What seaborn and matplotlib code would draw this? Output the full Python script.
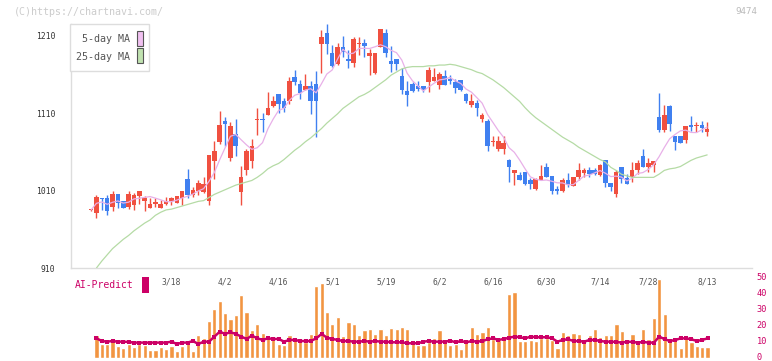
import numpy as np
import pandas as pd
import matplotlib
matplotlib.use("Agg")
import matplotlib.pyplot as plt
import seaborn as sns
from matplotlib.patches import Rectangle
from matplotlib.transforms import blended_transform_factory, ScaledTranslation

# ---------------- data ----------------
opens = [985, 981, 1001, 1000, 989, 1006, 996, 989, 991, 1003, 996, 988, 993, 987, 993, 996, 994, 1000, 1025, 1004,
         1009, 1008, 997, 1048, 1073, 1100, 1052, 1083, 1008, 1036, 1048, 1101, 1103, 1107, 1119, 1134, 1126, 1125, 1156, 1148,
         1140, 1145, 1147, 1199, 1214, 1188, 1173, 1195, 1180, 1175, 1199, 1200, 1184, 1162, 1195, 1213, 1177, 1180, 1158, 1139,
         1147, 1145, 1145, 1150, 1152, 1146, 1158, 1154, 1150, 1153, 1134, 1120, 1123, 1102, 1100, 1073, 1064, 1063, 1049, 1032,
         1030, 1034, 1024, 1012, 1024, 1041, 1029, 1012, 1009, 1024, 1016, 1027, 1033, 1037, 1037, 1030, 1049, 1020, 1006, 1040,
         1026, 1027, 1037, 1055, 1040, 1043, 1105, 1088, 1119, 1080, 1080, 1075, 1095, 1093, 1095, 1085]
highs = [986, 1004, 1001, 1004, 1009, 1006, 997, 1009, 1007, 1009, 1003, 1000, 1000, 998, 1002, 1002, 1003, 1009, 1038, 1015,
         1024, 1027, 1056, 1074, 1113, 1105, 1098, 1102, 1042, 1064, 1076, 1116, 1110, 1137, 1132, 1135, 1130, 1157, 1165, 1153,
         1160, 1151, 1164, 1217, 1225, 1198, 1200, 1209, 1191, 1208, 1208, 1205, 1193, 1188, 1218, 1219, 1196, 1180, 1168, 1151,
         1150, 1151, 1145, 1170, 1168, 1163, 1165, 1159, 1154, 1153, 1136, 1135, 1127, 1110, 1103, 1080, 1080, 1080, 1051, 1037,
         1034, 1034, 1026, 1026, 1043, 1046, 1029, 1016, 1026, 1033, 1028, 1045, 1039, 1040, 1039, 1044, 1049, 1020, 1037, 1040,
         1031, 1047, 1049, 1064, 1052, 1048, 1136, 1120, 1120, 1080, 1080, 1093, 1106, 1099, 1100, 1098]
lows = [984, 974, 985, 979, 984, 987, 988, 986, 985, 993, 983, 988, 989, 987, 991, 991, 994, 991, 1000, 1002,
        1004, 1007, 991, 1025, 1070, 1068, 1048, 1054, 991, 1030, 1039, 1082, 1085, 1107, 1118, 1110, 1112, 1122, 1146, 1128,
        1140, 1109, 1079, 1162, 1186, 1169, 1172, 1182, 1168, 1169, 1185, 1183, 1159, 1160, 1195, 1182, 1163, 1166, 1134, 1119,
        1137, 1139, 1137, 1137, 1152, 1141, 1146, 1147, 1136, 1138, 1123, 1118, 1106, 1098, 1061, 1067, 1061, 1057, 1021, 1017,
        1023, 1017, 1012, 1011, 1024, 1027, 1006, 1006, 1008, 1015, 1016, 1023, 1027, 1028, 1030, 1029, 1015, 1010, 1002, 1020,
        1018, 1021, 1031, 1040, 1034, 1034, 1086, 1085, 1087, 1062, 1071, 1072, 1087, 1085, 1086, 1080]
closes = [985, 1002, 999, 983, 1005, 994, 988, 1005, 1004, 1009, 1000, 993, 995, 993, 997, 1000, 1003, 1009, 1004, 1011,
          1020, 1018, 1056, 1061, 1094, 1096, 1093, 1068, 1027, 1061, 1067, 1103, 1101, 1116, 1125, 1122, 1117, 1151, 1150, 1136,
          1145, 1125, 1125, 1208, 1199, 1171, 1195, 1189, 1177, 1205, 1201, 1196, 1188, 1188, 1218, 1188, 1173, 1173, 1140, 1133,
          1139, 1141, 1140, 1165, 1157, 1161, 1146, 1151, 1143, 1140, 1125, 1126, 1116, 1107, 1067, 1074, 1074, 1072, 1040, 1037,
          1024, 1018, 1019, 1025, 1029, 1027, 1010, 1009, 1024, 1017, 1028, 1037, 1037, 1031, 1031, 1043, 1020, 1015, 1034, 1025,
          1018, 1037, 1046, 1040, 1045, 1048, 1088, 1107, 1096, 1073, 1071, 1093, 1092, 1095, 1091, 1089]
ma25 = [np.nan, 910, 919, 927, 935, 941, 947, 952, 958, 963, 968, 972, 978, 982, 985, 986, 988, 990, 992, 994,
        996, 997, 1001, 1005, 1008, 1011, 1014, 1017, 1019, 1021, 1023, 1027, 1032, 1038, 1042, 1045, 1050, 1056, 1062, 1067,
        1073, 1078, 1084, 1090, 1097, 1103, 1109, 1116, 1121, 1126, 1131, 1134, 1138, 1143, 1148, 1153, 1159, 1163, 1167, 1169,
        1170, 1170, 1170, 1171, 1171, 1172, 1172, 1173, 1172, 1170, 1168, 1166, 1163, 1161, 1157, 1153, 1148, 1143, 1137, 1131,
        1125, 1117, 1110, 1104, 1099, 1094, 1089, 1084, 1079, 1075, 1071, 1066, 1062, 1058, 1054, 1050, 1047, 1040, 1036, 1031,
        1029, 1027, 1027, 1027, 1027, 1027, 1031, 1036, 1038, 1039, 1041, 1045, 1049, 1052, 1054, 1056]
volume = [0, 14.2, 8.5, 8.5, 11.5, 7.3, 6.0, 8.5, 6.6, 8.5, 8.1, 4.7, 4.7, 6.6, 5.4, 7.3, 4.1, 7.3, 9.2, 4.1,
          14.2, 12.3, 23.1, 30.7, 35.8, 28.2, 24.4, 26.9, 39.6, 28.8, 17.4, 21.4, 15.7, 13.6, 12.3, 8.5, 7.9, 14.2, 12.3, 11.1,
          9.6, 14.9, 45.2, 46.9, 28.8, 21.2, 25.6, 13.6, 22.5, 21.2, 14.2, 17.4, 18.0, 14.9, 18.0, 14.2, 18.7, 18.0, 19.3, 18.0,
          9.2, 7.9, 7.9, 9.8, 12.3, 17.4, 9.8, 7.9, 8.5, 5.4, 11.1, 19.3, 14.9, 16.1, 19.3, 11.7, 11.1, 11.7, 40.2, 41.5,
          10.5, 10.5, 11.1, 10.5, 12.2, 12.2, 11.1, 6.1, 16.1, 14.2, 15.5, 14.9, 11.1, 14.2, 18.0, 13.0, 14.2, 14.2, 21.2, 16.8,
          11.1, 14.9, 10.4, 18.0, 11.7, 25.0, 49.7, 27.7, 12.3, 11.1, 6.0, 13.0, 9.8, 7.3, 6.6, 6.6]
ai_predict = [np.nan, 12.1, 10.4, 10.0, 10.4, 10.0, 10.0, 9.8, 9.4, 9.4, 9.4, 9.4, 9.4, 9.4, 9.4, 10.0, 8.5, 9.4, 9.4, 10.4,
              8.5, 10.0, 10.0, 13.2, 16.3, 14.9, 15.9, 14.9, 13.2, 11.7, 13.8, 12.1, 11.1, 12.1, 11.7, 11.7, 10.0, 11.1, 11.1, 10.4,
              10.4, 10.4, 12.1, 14.9, 12.5, 11.7, 11.1, 10.4, 10.4, 10.0, 10.0, 10.4, 10.0, 10.4, 10.0, 10.0, 9.6, 9.6, 9.6, 9.0,
              9.0, 9.0, 10.0, 10.4, 10.0, 10.0, 10.0, 10.6, 9.6, 10.4, 9.6, 10.4, 10.0, 10.4, 11.5, 12.1, 11.1, 11.7, 12.5, 13.2,
              12.8, 12.1, 13.2, 12.8, 12.8, 12.8, 12.1, 10.0, 11.1, 11.5, 10.4, 10.4, 10.0, 11.1, 11.1, 10.4, 10.0, 10.0, 9.8, 9.4,
              10.0, 9.8, 9.4, 9.8, 9.4, 9.4, 13.2, 11.5, 10.4, 11.1, 12.1, 12.1, 11.5, 10.4, 11.1, 12.1]
date_labels = ["3/18", "4/2", "4/16", "5/1", "5/19", "6/2", "6/16", "6/30", "7/14", "7/28", "8/13"]
date_index = [15, 25, 35, 45, 55, 65, 75, 85, 95, 104, 115]
price_ticks = [910, 1010, 1110, 1210]
vol_ticks = [0, 10, 20, 30, 40, 50]

# ---------------- style ----------------
sns.set_style("white")
plt.rcParams["font.family"] = ["DejaVu Sans Mono", "DejaVu Sans"]

RED = "#F05040"
BLUE = "#4080F0"
ORANGE = "#F29541"
MAGENTA = "#CC0066"
PINK = "#E8B0E8"
GREEN = "#B5DBA5"
W, H = 772, 361

fig = plt.figure(figsize=(W / 100, H / 100), dpi=100)

def fx(px):
    return px / W

def fy(py):
    return 1 - py / H

n = len(closes)
idx = np.arange(n)
df = pd.DataFrame({"i": idx, "open": opens, "high": highs, "low": lows, "close": closes,
                   "ma25": ma25, "vol": volume, "ai": ai_predict})
df["ma5"] = df["close"].rolling(5, min_periods=1).mean()

x_left, x_right = -3.81, 123.35

# ---------------- main price panel ----------------
ax = fig.add_axes([fx(70.7), fy(268), fx(752.3) - fx(70.7), fy(24) - fy(268)])
ax.set_xlim(x_left, x_right)
ax.set_ylim(910, 1225)

up = df["close"] >= df["open"]
cols = np.where(up, RED, BLUE)
ax.vlines(df["i"], df["low"], df["high"], colors=cols, lw=1.0, zorder=2)
body_bottom = np.minimum(df["open"], df["close"])
body_h = np.maximum(np.abs(df["close"] - df["open"]), 1.0)
ax.bar(df["i"], body_h, bottom=body_bottom, width=0.85, color=cols, linewidth=0, zorder=3)

sns.lineplot(data=df, x="i", y="ma5", ax=ax, color=PINK, lw=0.9, zorder=4)
sns.lineplot(data=df, x="i", y="ma25", ax=ax, color=GREEN, lw=0.9, zorder=4)

for s in ["top", "right"]:
    ax.spines[s].set_visible(False)
for s in ["left", "bottom"]:
    ax.spines[s].set_color("#dddddd")
    ax.spines[s].set_linewidth(1.0)
ax.set_yticks(price_ticks)
ax.set_yticklabels([str(v) for v in price_ticks])
ax.tick_params(axis="y", direction="out", length=5, width=1, color="#dddddd",
               labelsize=5.8, labelcolor="#333333", pad=6)
ax.set_xticks([x_left + 11.567 * k for k in range(12)])
ax.set_xticklabels([])
ax.tick_params(axis="x", direction="inout", length=6, width=1, color="#dddddd")
ax.set_xlabel("")
ax.set_ylabel("")

# ---------------- volume / AI panel ----------------
axv = fig.add_axes([fx(70.7), fy(357.5), fx(752.3) - fx(70.7), fy(271) - fy(357.5)])
sns.barplot(data=df, x="i", y="vol", native_scale=True, width=0.78, color=ORANGE,
            saturation=1, errorbar=None, ax=axv, zorder=2)
sns.lineplot(data=df, x="i", y="ai", ax=axv, color=MAGENTA, lw=1.8, marker="s",
             markersize=2.2, markeredgewidth=0, zorder=3)
axv.set_xlim(x_left, x_right)
axv.set_ylim(0, 86.5 / 1.584)
for s in axv.spines.values():
    s.set_visible(False)
axv.set_xticks([])
axv.yaxis.tick_right()
axv.set_yticks(vol_ticks)
axv.set_yticklabels([str(v) for v in vol_ticks])
axv.tick_params(axis="y", length=0, labelsize=6.2, labelcolor=MAGENTA, pad=3)
shift = ScaledTranslation(0, 1.5 / 100, fig.dpi_scale_trans)
for lab in axv.get_yticklabels():
    lab.set_transform(lab.get_transform() + shift)
axv.set_xlabel("")
axv.set_ylabel("")

tr = blended_transform_factory(axv.transData, axv.transAxes)
for lab, pos in zip(date_labels, date_index):
    axv.text(pos, 0.873, lab, transform=tr, ha="center", va="center",
             fontsize=5.8, color="#555555", zorder=5)

# AI-Predict label
fig.text(fx(75), fy(285), "AI-Predict", fontsize=7, color=MAGENTA, ha="left", va="center")
fig.patches.append(Rectangle((fx(142), fy(293)), fx(149) - fx(142), fy(277) - fy(293),
                             transform=fig.transFigure, facecolor=MAGENTA, edgecolor="none"))

# ---------------- legend box ----------------
fig.patches.append(Rectangle((fx(70.3), fy(71)), fx(149) - fx(70.3), fy(24) - fy(71),
                             transform=fig.transFigure, facecolor="white", edgecolor="#dddddd",
                             lw=1.0, zorder=10))
fig.text(fx(129.5), fy(39.5), "5-day MA", fontsize=7.2, color="#555555", ha="right", va="center", zorder=11)
fig.text(fx(129.5), fy(56.7), "25-day MA", fontsize=7.2, color="#555555", ha="right", va="center", zorder=11)
fig.patches.append(Rectangle((fx(136.7), fy(46)), fx(142.7) - fx(136.7), fy(31) - fy(46),
                             transform=fig.transFigure, facecolor="#F0C0F0", edgecolor="#555555",
                             lw=0.8, zorder=11))
fig.patches.append(Rectangle((fx(136.7), fy(63)), fx(142.7) - fx(136.7), fy(48) - fy(63),
                             transform=fig.transFigure, facecolor="#C0E2B0", edgecolor="#555555",
                             lw=0.8, zorder=11))

# ---------------- header texts ----------------
fig.text(fx(14), fy(12), "(C)https://chartnavi.com/", fontsize=7.2, color="#cccccc", ha="left", va="center")
fig.text(fx(757), fy(12), "9474", fontsize=6.6, color="#bbbbbb", ha="right", va="center")

fig.savefig("out.png", dpi=100)
